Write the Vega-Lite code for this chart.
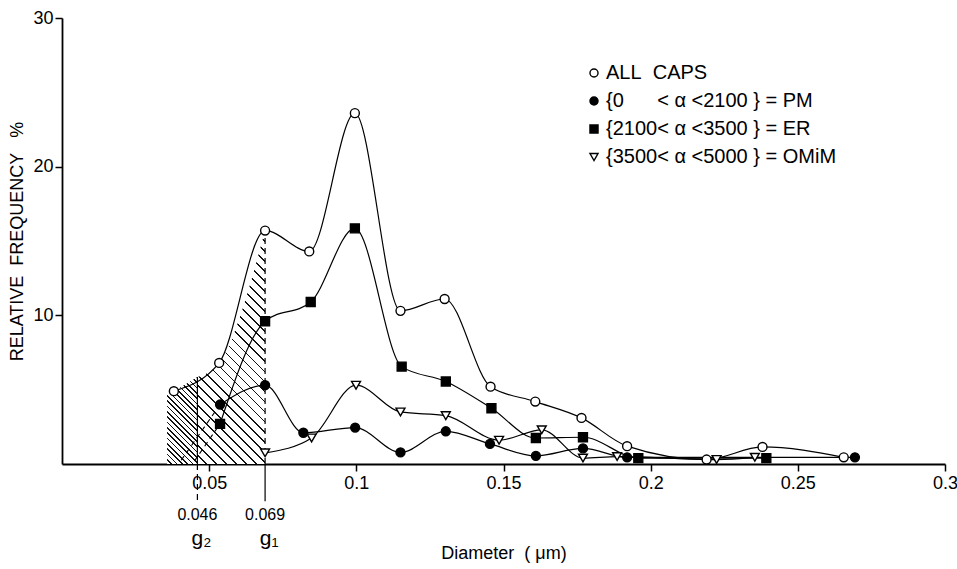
{
  "$schema": "https://vega.github.io/schema/vega-lite/v6.json",
  "width": 883,
  "height": 446,
  "autosize": {"type": "none"},
  "padding": {"left": 62, "top": 18, "right": 12, "bottom": 105},
  "background": "white",
  "config": {
    "view": {"stroke": null},
    "font": "Liberation Sans",
    "axis": {"domainColor": "black", "tickColor": "black", "labelColor": "black", "titleColor": "black", "grid": false, "labelFont": "Liberation Sans", "titleFont": "Liberation Sans", "titleFontWeight": "normal"},
    "legend": {"title": null, "orient": "none", "legendX": 522, "legendY": 45, "padding": 0, "labelFontSize": 20, "labelFont": "Liberation Sans", "labelColor": "black", "symbolSize": 65, "symbolStrokeWidth": 1.4, "rowPadding": 8, "labelOffset": 2, "labelLimit": 400}
  },
  "datasets": {
    "pts": [
      {"s": "ALL", "x": 0.038, "y": 4.9},
      {"s": "ALL", "x": 0.0534, "y": 6.8},
      {"s": "ALL", "x": 0.069, "y": 15.7},
      {"s": "ALL", "x": 0.084, "y": 14.3},
      {"s": "ALL", "x": 0.0995, "y": 23.6},
      {"s": "ALL", "x": 0.115, "y": 10.3},
      {"s": "ALL", "x": 0.13, "y": 11.1},
      {"s": "ALL", "x": 0.1456, "y": 5.2},
      {"s": "ALL", "x": 0.1608, "y": 4.2},
      {"s": "ALL", "x": 0.1765, "y": 3.1},
      {"s": "ALL", "x": 0.192, "y": 1.2},
      {"s": "ALL", "x": 0.219, "y": 0.3},
      {"s": "ALL", "x": 0.238, "y": 1.15},
      {"s": "ALL", "x": 0.2656, "y": 0.45},
      {"s": "PM", "x": 0.0537, "y": 4.0},
      {"s": "PM", "x": 0.069, "y": 5.3},
      {"s": "PM", "x": 0.082, "y": 2.1},
      {"s": "PM", "x": 0.0996, "y": 2.45},
      {"s": "PM", "x": 0.115, "y": 0.78},
      {"s": "PM", "x": 0.1304, "y": 2.2},
      {"s": "PM", "x": 0.1454, "y": 1.35},
      {"s": "PM", "x": 0.161, "y": 0.55},
      {"s": "PM", "x": 0.177, "y": 1.05},
      {"s": "PM", "x": 0.192, "y": 0.45},
      {"s": "PM", "x": 0.2694, "y": 0.45},
      {"s": "ER", "x": 0.0537, "y": 2.7},
      {"s": "ER", "x": 0.069, "y": 9.6},
      {"s": "ER", "x": 0.0845, "y": 10.9},
      {"s": "ER", "x": 0.0995, "y": 15.85},
      {"s": "ER", "x": 0.1154, "y": 6.55},
      {"s": "ER", "x": 0.1304, "y": 5.55},
      {"s": "ER", "x": 0.1459, "y": 3.75},
      {"s": "ER", "x": 0.161, "y": 1.75},
      {"s": "ER", "x": 0.177, "y": 1.8},
      {"s": "ER", "x": 0.1958, "y": 0.4},
      {"s": "ER", "x": 0.2393, "y": 0.4},
      {"s": "OMiM", "x": 0.069, "y": 0.75},
      {"s": "OMiM", "x": 0.0848, "y": 1.75},
      {"s": "OMiM", "x": 0.0999, "y": 5.3},
      {"s": "OMiM", "x": 0.115, "y": 3.5},
      {"s": "OMiM", "x": 0.1304, "y": 3.25},
      {"s": "OMiM", "x": 0.1485, "y": 1.6},
      {"s": "OMiM", "x": 0.163, "y": 2.3},
      {"s": "OMiM", "x": 0.177, "y": 0.4},
      {"s": "OMiM", "x": 0.1886, "y": 0.5},
      {"s": "OMiM", "x": 0.2224, "y": 0.3},
      {"s": "OMiM", "x": 0.2354, "y": 0.45}
    ],
    "hatchL": [
      {"x": 0.0357, "y": 4.65},
      {"x": 0.038, "y": 4.9},
      {"x": 0.046, "y": 5.85}
    ],
    "hatchR": [
      {"x": 0.046, "y": 5.85},
      {"x": 0.0534, "y": 6.8},
      {"x": 0.069, "y": 15.7}
    ],
    "ext": [
      {"s": "PM", "x": 0.0537, "y": 4.0},
      {"s": "PM", "x": 0.0405, "y": 0.25},
      {"s": "ER", "x": 0.0537, "y": 2.7},
      {"s": "ER", "x": 0.045, "y": 0.2}
    ]
  },
  "encoding": {
    "x": {
      "field": "x",
      "type": "quantitative",
      "title": "Diameter\u00a0\u00a0( μm)",
      "scale": {"domain": [0, 0.3], "nice": false, "zero": false},
      "axis": {"values": [0.05, 0.1, 0.15, 0.2, 0.25, 0.3], "format": "~g", "labelFontSize": 18, "tickSize": 7, "tickWidth": 1.5, "domainWidth": 1.8, "labelPadding": 3, "titleFontSize": 18, "titlePadding": 52, "labelFlush": false}
    },
    "y": {
      "field": "y",
      "type": "quantitative",
      "title": "RELATIVE\u00a0\u00a0FREQUENCY\u00a0\u00a0\u00a0%",
      "scale": {"domain": [0, 30], "nice": false},
      "axis": {"values": [10, 20, 30], "labelFontSize": 18, "tickSize": 7, "tickWidth": 1.5, "domainWidth": 1.8, "labelPadding": 2, "titleFontSize": 18, "titlePadding": 6}
    }
  },
  "layer": [
    {
      "data": {"name": "hatchL"},
      "mark": {
        "type": "area",
        "interpolate": "monotone",
        "fill": {
          "gradient": "linear", "x1": 0, "y1": 1, "x2": 0.4186, "y2": -0.2025,
          "stops": [
            {"offset": 0, "color": "#fff"}, {"offset": 0.0332, "color": "#fff"}, {"offset": 0.0332, "color": "#111"}, {"offset": 0.0455, "color": "#111"},
            {"offset": 0.0455, "color": "#fff"}, {"offset": 0.0787, "color": "#fff"}, {"offset": 0.0787, "color": "#111"}, {"offset": 0.0909, "color": "#111"},
            {"offset": 0.0909, "color": "#fff"}, {"offset": 0.1241, "color": "#fff"}, {"offset": 0.1241, "color": "#111"}, {"offset": 0.1364, "color": "#111"},
            {"offset": 0.1364, "color": "#fff"}, {"offset": 0.1696, "color": "#fff"}, {"offset": 0.1696, "color": "#111"}, {"offset": 0.1818, "color": "#111"},
            {"offset": 0.1818, "color": "#fff"}, {"offset": 0.215, "color": "#fff"}, {"offset": 0.215, "color": "#111"}, {"offset": 0.2273, "color": "#111"},
            {"offset": 0.2273, "color": "#fff"}, {"offset": 0.2605, "color": "#fff"}, {"offset": 0.2605, "color": "#111"}, {"offset": 0.2727, "color": "#111"},
            {"offset": 0.2727, "color": "#fff"}, {"offset": 0.3059, "color": "#fff"}, {"offset": 0.3059, "color": "#111"}, {"offset": 0.3182, "color": "#111"},
            {"offset": 0.3182, "color": "#fff"}, {"offset": 0.3514, "color": "#fff"}, {"offset": 0.3514, "color": "#111"}, {"offset": 0.3636, "color": "#111"},
            {"offset": 0.3636, "color": "#fff"}, {"offset": 0.3968, "color": "#fff"}, {"offset": 0.3968, "color": "#111"}, {"offset": 0.4091, "color": "#111"},
            {"offset": 0.4091, "color": "#fff"}, {"offset": 0.4423, "color": "#fff"}, {"offset": 0.4423, "color": "#111"}, {"offset": 0.4545, "color": "#111"},
            {"offset": 0.4545, "color": "#fff"}, {"offset": 0.4877, "color": "#fff"}, {"offset": 0.4877, "color": "#111"}, {"offset": 0.5, "color": "#111"},
            {"offset": 0.5, "color": "#fff"}, {"offset": 0.5332, "color": "#fff"}, {"offset": 0.5332, "color": "#111"}, {"offset": 0.5455, "color": "#111"},
            {"offset": 0.5455, "color": "#fff"}, {"offset": 0.5787, "color": "#fff"}, {"offset": 0.5787, "color": "#111"}, {"offset": 0.5909, "color": "#111"},
            {"offset": 0.5909, "color": "#fff"}, {"offset": 0.6241, "color": "#fff"}, {"offset": 0.6241, "color": "#111"}, {"offset": 0.6364, "color": "#111"},
            {"offset": 0.6364, "color": "#fff"}, {"offset": 0.6696, "color": "#fff"}, {"offset": 0.6696, "color": "#111"}, {"offset": 0.6818, "color": "#111"},
            {"offset": 0.6818, "color": "#fff"}, {"offset": 0.715, "color": "#fff"}, {"offset": 0.715, "color": "#111"}, {"offset": 0.7273, "color": "#111"},
            {"offset": 0.7273, "color": "#fff"}, {"offset": 0.7605, "color": "#fff"}, {"offset": 0.7605, "color": "#111"}, {"offset": 0.7727, "color": "#111"},
            {"offset": 0.7727, "color": "#fff"}, {"offset": 0.8059, "color": "#fff"}, {"offset": 0.8059, "color": "#111"}, {"offset": 0.8182, "color": "#111"},
            {"offset": 0.8182, "color": "#fff"}, {"offset": 0.8514, "color": "#fff"}, {"offset": 0.8514, "color": "#111"}, {"offset": 0.8636, "color": "#111"},
            {"offset": 0.8636, "color": "#fff"}, {"offset": 0.8968, "color": "#fff"}, {"offset": 0.8968, "color": "#111"}, {"offset": 0.9091, "color": "#111"},
            {"offset": 0.9091, "color": "#fff"}, {"offset": 0.9423, "color": "#fff"}, {"offset": 0.9423, "color": "#111"}, {"offset": 0.9545, "color": "#111"},
            {"offset": 0.9545, "color": "#fff"}, {"offset": 0.9877, "color": "#fff"}, {"offset": 0.9877, "color": "#111"}, {"offset": 1, "color": "#111"}
          ]
        }
      }
    },
    {
      "data": {"name": "hatchR"},
      "mark": {
        "type": "area",
        "interpolate": "monotone",
        "fill": {
          "gradient": "linear", "x1": 0, "y1": 1, "x2": 0.345, "y2": -0.19,
          "stops": [
            {"offset": 0, "color": "#fff"}, {"offset": 0.0273, "color": "#fff"}, {"offset": 0.0273, "color": "#111"}, {"offset": 0.0333, "color": "#111"},
            {"offset": 0.0333, "color": "#fff"}, {"offset": 0.0607, "color": "#fff"}, {"offset": 0.0607, "color": "#111"}, {"offset": 0.0667, "color": "#111"},
            {"offset": 0.0667, "color": "#fff"}, {"offset": 0.094, "color": "#fff"}, {"offset": 0.094, "color": "#111"}, {"offset": 0.1, "color": "#111"},
            {"offset": 0.1, "color": "#fff"}, {"offset": 0.1273, "color": "#fff"}, {"offset": 0.1273, "color": "#111"}, {"offset": 0.1333, "color": "#111"},
            {"offset": 0.1333, "color": "#fff"}, {"offset": 0.1607, "color": "#fff"}, {"offset": 0.1607, "color": "#111"}, {"offset": 0.1667, "color": "#111"},
            {"offset": 0.1667, "color": "#fff"}, {"offset": 0.194, "color": "#fff"}, {"offset": 0.194, "color": "#111"}, {"offset": 0.2, "color": "#111"},
            {"offset": 0.2, "color": "#fff"}, {"offset": 0.2273, "color": "#fff"}, {"offset": 0.2273, "color": "#111"}, {"offset": 0.2333, "color": "#111"},
            {"offset": 0.2333, "color": "#fff"}, {"offset": 0.2607, "color": "#fff"}, {"offset": 0.2607, "color": "#111"}, {"offset": 0.2667, "color": "#111"},
            {"offset": 0.2667, "color": "#fff"}, {"offset": 0.294, "color": "#fff"}, {"offset": 0.294, "color": "#111"}, {"offset": 0.3, "color": "#111"},
            {"offset": 0.3, "color": "#fff"}, {"offset": 0.3273, "color": "#fff"}, {"offset": 0.3273, "color": "#111"}, {"offset": 0.3333, "color": "#111"},
            {"offset": 0.3333, "color": "#fff"}, {"offset": 0.3607, "color": "#fff"}, {"offset": 0.3607, "color": "#111"}, {"offset": 0.3667, "color": "#111"},
            {"offset": 0.3667, "color": "#fff"}, {"offset": 0.394, "color": "#fff"}, {"offset": 0.394, "color": "#111"}, {"offset": 0.4, "color": "#111"},
            {"offset": 0.4, "color": "#fff"}, {"offset": 0.4273, "color": "#fff"}, {"offset": 0.4273, "color": "#111"}, {"offset": 0.4333, "color": "#111"},
            {"offset": 0.4333, "color": "#fff"}, {"offset": 0.4607, "color": "#fff"}, {"offset": 0.4607, "color": "#111"}, {"offset": 0.4667, "color": "#111"},
            {"offset": 0.4667, "color": "#fff"}, {"offset": 0.494, "color": "#fff"}, {"offset": 0.494, "color": "#111"}, {"offset": 0.5, "color": "#111"},
            {"offset": 0.5, "color": "#fff"}, {"offset": 0.5273, "color": "#fff"}, {"offset": 0.5273, "color": "#111"}, {"offset": 0.5333, "color": "#111"},
            {"offset": 0.5333, "color": "#fff"}, {"offset": 0.5607, "color": "#fff"}, {"offset": 0.5607, "color": "#111"}, {"offset": 0.5667, "color": "#111"},
            {"offset": 0.5667, "color": "#fff"}, {"offset": 0.594, "color": "#fff"}, {"offset": 0.594, "color": "#111"}, {"offset": 0.6, "color": "#111"},
            {"offset": 0.6, "color": "#fff"}, {"offset": 0.6273, "color": "#fff"}, {"offset": 0.6273, "color": "#111"}, {"offset": 0.6333, "color": "#111"},
            {"offset": 0.6333, "color": "#fff"}, {"offset": 0.6607, "color": "#fff"}, {"offset": 0.6607, "color": "#111"}, {"offset": 0.6667, "color": "#111"},
            {"offset": 0.6667, "color": "#fff"}, {"offset": 0.694, "color": "#fff"}, {"offset": 0.694, "color": "#111"}, {"offset": 0.7, "color": "#111"},
            {"offset": 0.7, "color": "#fff"}, {"offset": 0.7273, "color": "#fff"}, {"offset": 0.7273, "color": "#111"}, {"offset": 0.7333, "color": "#111"},
            {"offset": 0.7333, "color": "#fff"}, {"offset": 0.7607, "color": "#fff"}, {"offset": 0.7607, "color": "#111"}, {"offset": 0.7667, "color": "#111"},
            {"offset": 0.7667, "color": "#fff"}, {"offset": 0.794, "color": "#fff"}, {"offset": 0.794, "color": "#111"}, {"offset": 0.8, "color": "#111"},
            {"offset": 0.8, "color": "#fff"}, {"offset": 0.8273, "color": "#fff"}, {"offset": 0.8273, "color": "#111"}, {"offset": 0.8333, "color": "#111"},
            {"offset": 0.8333, "color": "#fff"}, {"offset": 0.8607, "color": "#fff"}, {"offset": 0.8607, "color": "#111"}, {"offset": 0.8667, "color": "#111"},
            {"offset": 0.8667, "color": "#fff"}, {"offset": 0.894, "color": "#fff"}, {"offset": 0.894, "color": "#111"}, {"offset": 0.9, "color": "#111"},
            {"offset": 0.9, "color": "#fff"}, {"offset": 0.9273, "color": "#fff"}, {"offset": 0.9273, "color": "#111"}, {"offset": 0.9333, "color": "#111"},
            {"offset": 0.9333, "color": "#fff"}, {"offset": 0.9607, "color": "#fff"}, {"offset": 0.9607, "color": "#111"}, {"offset": 0.9667, "color": "#111"},
            {"offset": 0.9667, "color": "#fff"}, {"offset": 0.994, "color": "#fff"}, {"offset": 0.994, "color": "#111"}, {"offset": 1, "color": "#111"}
          ]
        }
      }
    },
    {
      "data": {"values": [{"x": 0.046, "y": 0, "y2": 5.85}, {"x": 0.069, "y": 0, "y2": -2.5}]},
      "mark": {"type": "rule", "color": "black", "strokeWidth": 1.2},
      "encoding": {"y2": {"field": "y2"}}
    },
    {
      "data": {"values": [{"x": 0.069, "y": 0, "y2": 15.7}, {"x": 0.046, "y": 0, "y2": -2.5}]},
      "mark": {"type": "rule", "color": "black", "strokeWidth": 1.2, "strokeDash": [6, 4]},
      "encoding": {"y2": {"field": "y2"}}
    },
    {
      "data": {"name": "ext"},
      "mark": {"type": "line", "color": "black", "strokeWidth": 1.1, "strokeDash": [5, 4]},
      "encoding": {"detail": {"field": "s"}}
    },
    {
      "data": {"name": "pts"},
      "mark": {"type": "line", "color": "black", "strokeWidth": 1.2, "interpolate": "monotone"},
      "encoding": {"detail": {"field": "s"}}
    },
    {
      "data": {"name": "pts"},
      "mark": {"type": "point", "strokeWidth": 1.4, "opacity": 1, "size": 80},
      "encoding": {
        "shape": {
          "field": "s", "type": "nominal",
          "scale": {"domain": ["ALL", "PM", "ER", "OMiM"], "range": ["circle", "circle", "square", "triangle-down"]},
          "legend": {"labelExpr": "datum.label == 'ALL' ? '\u00a0\u00a0ALL\u00a0\u00a0CAPS' : datum.label == 'PM' ? '{0\u00a0\u00a0\u00a0\u00a0\u00a0\u00a0< α <2100 } = PM' : datum.label == 'ER' ? '{2100< α <3500 } = ER' : '{3500< α <5000 } = OMiM'"}
        },
        "fill": {
          "field": "s", "type": "nominal",
          "scale": {"domain": ["ALL", "PM", "ER", "OMiM"], "range": ["white", "black", "black", "white"]},
          "legend": {"labelExpr": "datum.label == 'ALL' ? '\u00a0\u00a0ALL\u00a0\u00a0CAPS' : datum.label == 'PM' ? '{0\u00a0\u00a0\u00a0\u00a0\u00a0\u00a0< α <2100 } = PM' : datum.label == 'ER' ? '{2100< α <3500 } = ER' : '{3500< α <5000 } = OMiM'"}
        },
        "stroke": {
          "field": "s", "type": "nominal",
          "scale": {"domain": ["ALL", "PM", "ER", "OMiM"], "range": ["black", "black", "black", "black"]},
          "legend": {"labelExpr": "datum.label == 'ALL' ? '\u00a0\u00a0ALL\u00a0\u00a0CAPS' : datum.label == 'PM' ? '{0\u00a0\u00a0\u00a0\u00a0\u00a0\u00a0< α <2100 } = PM' : datum.label == 'ER' ? '{2100< α <3500 } = ER' : '{3500< α <5000 } = OMiM'"}
        }
      }
    },
    {
      "data": {"values": [{"x": 0.046, "y": -3.77, "t": "0.046"}, {"x": 0.069, "y": -3.77, "t": "0.069"}]},
      "mark": {"type": "text", "fontSize": 16, "font": "Liberation Sans", "color": "black", "align": "center", "baseline": "alphabetic"},
      "encoding": {"text": {"field": "t"}}
    },
    {
      "data": {"values": [{"x": 0.046, "y": -5.45, "t": "g₂"}, {"x": 0.069, "y": -5.45, "t": "g₁"}]},
      "mark": {"type": "text", "fontSize": 21, "font": "Liberation Sans", "color": "black", "align": "center", "baseline": "alphabetic", "dx": 4},
      "encoding": {"text": {"field": "t"}}
    }
  ]
}
